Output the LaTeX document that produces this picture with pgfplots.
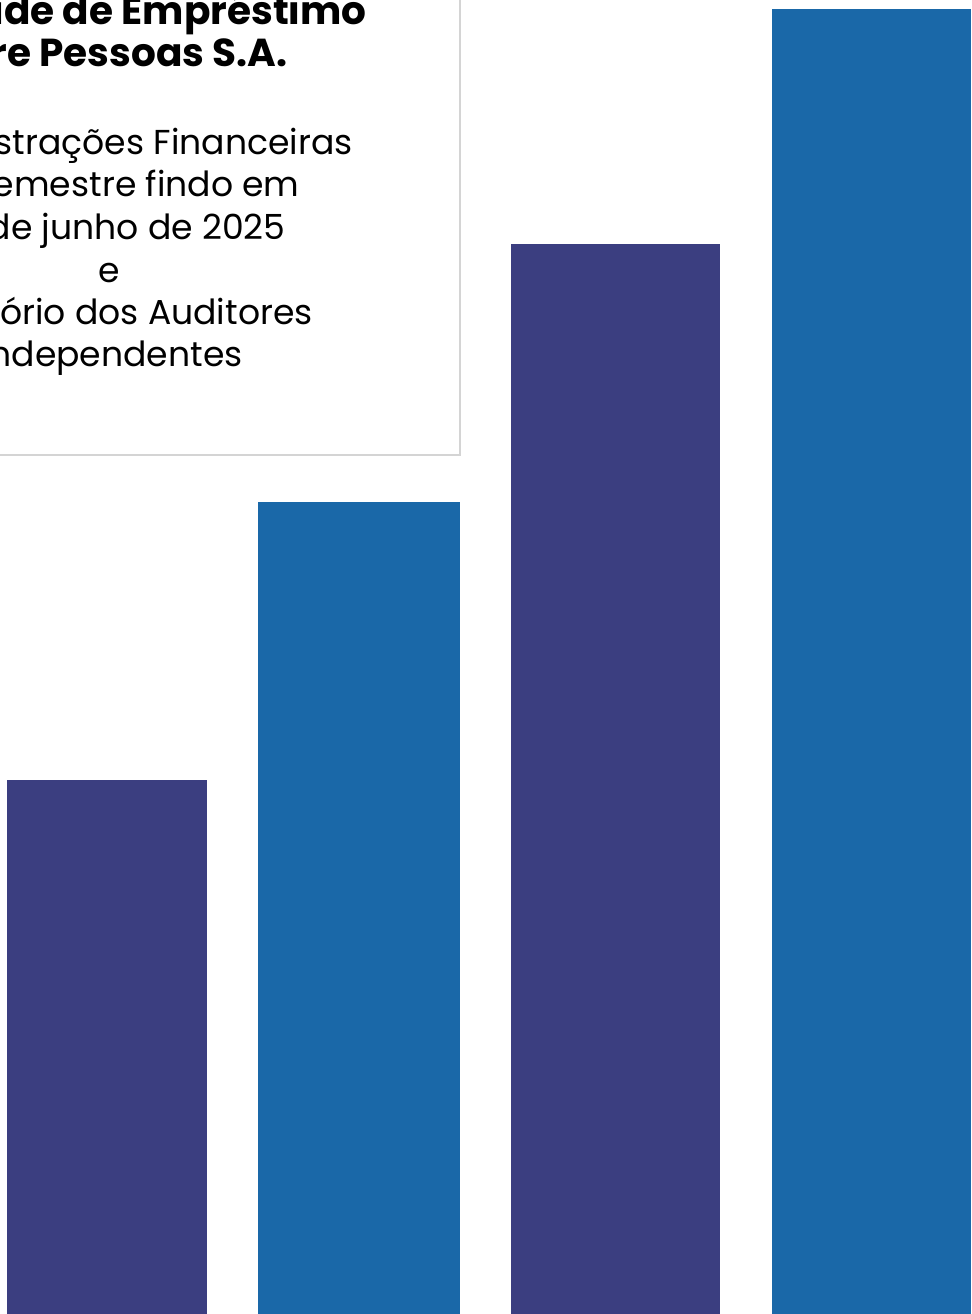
\documentclass[border=0pt]{standalone}
\usepackage{pgfplots}
\pgfplotsset{compat=1.18}
\usepackage{fontspec}
\setmainfont{Poppins}
\definecolor{barnavy}{RGB}{59,62,128}
\definecolor{barblue}{RGB}{26,104,168}
\definecolor{boxgray}{RGB}{212,212,212}

% 1 px of the cover = 0.5pt
\begin{document}
\begin{tikzpicture}
\begin{axis}[
    name=ax,
    width=492pt, height=657pt,
    scale only axis,
    hide axis,
    xmin=0, xmax=984,
    ymin=0, ymax=1314,
    clip=true,
]
% decorative bars (centre, height in px)
\addplot[ybar, bar shift=0pt, bar width=200, fill=barnavy, draw=none]
    coordinates {(107,534)};
\addplot[ybar, bar shift=0pt, bar width=202, fill=barblue, draw=none]
    coordinates {(359,812)};
\addplot[ybar, bar shift=0pt, bar width=209, fill=barnavy, draw=none]
    coordinates {(615.5,1070)};
\addplot[ybar, bar shift=0pt, bar width=199, fill=barblue, draw=none]
    coordinates {(871.5,1305)};

% title box
\draw[boxgray, line width=1pt] (axis cs:-300,859) -- (axis cs:460,859) -- (axis cs:460,1400);

\begin{scope}[every node/.style={anchor=base east, inner sep=0pt}]
\node[font=\fontsize{19.5pt}{22pt}\selectfont\bfseries] at (axis cs:367,1289) {Sociedade de Empréstimo};
\node[font=\fontsize{19.5pt}{22pt}\selectfont\bfseries] at (axis cs:288,1247) {Entre Pessoas S.A.};
\node[font=\fontsize{17.3pt}{20pt}\selectfont] at (axis cs:353,1159) {Demonstrações Financeiras};
\node[font=\fontsize{17.3pt}{20pt}\selectfont] at (axis cs:300,1117) {do semestre findo em};
\node[font=\fontsize{17.3pt}{20pt}\selectfont] at (axis cs:286,1074) {30 de junho de 2025};
\node[font=\fontsize{17.3pt}{20pt}\selectfont] at (axis cs:120,1031) {e};
\node[font=\fontsize{17.3pt}{20pt}\selectfont] at (axis cs:313,989) {Relatório dos Auditores};
\node[font=\fontsize{17.3pt}{20pt}\selectfont] at (axis cs:243,947) {Independentes};
\end{scope}
\end{axis}
\end{tikzpicture}
\end{document}
